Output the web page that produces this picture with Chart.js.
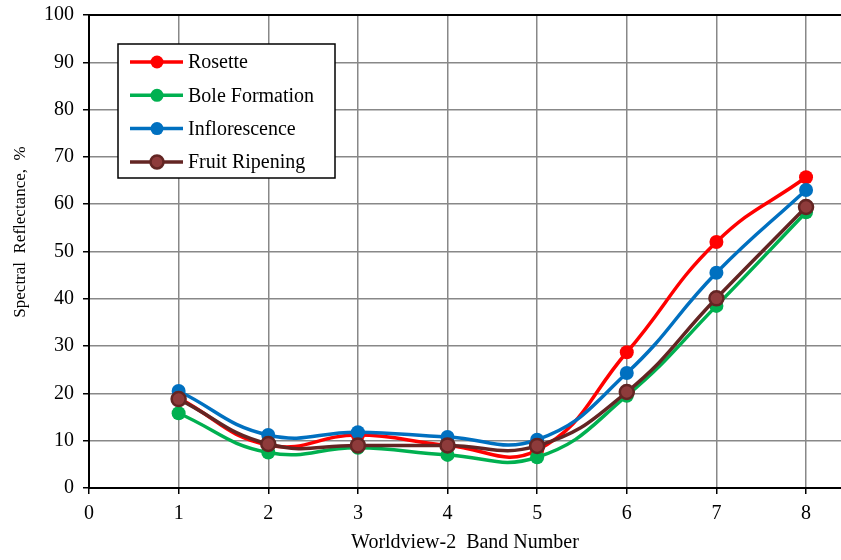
<!DOCTYPE html>
<html>
<head>
<meta charset="utf-8">
<script src="https://cdn.jsdelivr.net/npm/chart.js@4.4.1/dist/chart.umd.min.js"></script>
<style>
html,body{margin:0;padding:0;background:#fff;}
#wrap{width:841px;height:560px;position:relative;}
</style>
</head>
<body>
<div id="wrap"><canvas id="c" width="841" height="560"></canvas></div>
<script>
const bands = [1, 2, 3, 4, 5, 6, 7, 8];
const seriesNames = ["Rosette", "Bole Formation", "Inflorescence", "Fruit Ripening"];
const rosette = [19.0, 9.1, 11.2, 9.0, 8.0, 28.7, 52.0, 65.7];
const boleFormation = [15.8, 7.5, 8.5, 7.0, 6.5, 19.5, 38.5, 58.3];
const inflorescence = [20.5, 11.2, 11.8, 10.8, 10.2, 24.3, 45.5, 63.0];
const fruitRipening = [18.8, 9.3, 9.0, 9.0, 8.9, 20.3, 40.1, 59.4];
const xTicks = [0, 1, 2, 3, 4, 5, 6, 7, 8];
const yTicks = [0, 10, 20, 30, 40, 50, 60, 70, 80, 90, 100];
const xTitle = "Worldview-2  Band Number";
const yTitle = "Spectral  Reflectance,  %";

const colors = ["#FF0000", "#00B050", "#0070C0", "#632523"];
const fills = ["#FF0000", "#00B050", "#0070C0", "#8E3B3B"];
const values = [rosette, boleFormation, inflorescence, fruitRipening];

const datasets = seriesNames.map((name, i) => ({
  label: name,
  data: bands.map((b, j) => ({x: b, y: values[i][j]})),
  borderColor: colors[i],
  backgroundColor: fills[i],
  pointBackgroundColor: fills[i],
  pointBorderColor: colors[i],
  pointBorderWidth: i === 3 ? 2.5 : 0,
  pointRadius: 7,
  borderWidth: 3.5,
  tension: 0.45,
  order: 3 - i,
  clip: false
}));

const FONT = "'Liberation Serif', 'Times New Roman', serif";

const legendPlugin = {
  id: 'boxLegend',
  afterDatasetsDraw(chart) {
    const ctx = chart.ctx;
    const x0 = 118, y0 = 44, w = 217, h = 134;
    ctx.save();
    ctx.fillStyle = '#fff';
    ctx.fillRect(x0, y0, w, h);
    ctx.strokeStyle = '#000';
    ctx.lineWidth = 1.5;
    ctx.strokeRect(x0, y0, w, h);
    ctx.font = "20px " + FONT;
    ctx.textBaseline = 'middle';
    chart.data.datasets.forEach((ds, i) => {
      const y = y0 + 18 + i * 33.3;
      ctx.strokeStyle = ds.borderColor;
      ctx.lineWidth = 3.5;
      ctx.beginPath();
      ctx.moveTo(130, y);
      ctx.lineTo(183, y);
      ctx.stroke();
      ctx.beginPath();
      ctx.arc(157, y, 6.5, 0, Math.PI * 2);
      ctx.fillStyle = ds.pointBackgroundColor;
      ctx.fill();
      if (ds.pointBorderWidth) {
        ctx.lineWidth = ds.pointBorderWidth;
        ctx.strokeStyle = ds.pointBorderColor;
        ctx.stroke();
      }
      ctx.fillStyle = '#000';
      ctx.fillText(ds.label, 188, y + 1);
    });
    ctx.restore();
  }
};

const extras = {
  id: 'extras',
  afterDraw(chart) {
    const a = chart.chartArea, ctx = chart.ctx;
    ctx.save();
    ctx.strokeStyle = '#000';
    ctx.lineWidth = 2;
    ctx.beginPath();
    ctx.moveTo(a.left, a.top);
    ctx.lineTo(a.right, a.top);
    ctx.stroke();
    // y axis title
    ctx.translate(21, 232);
    ctx.rotate(-Math.PI / 2);
    ctx.font = "17px " + FONT;
    ctx.fillStyle = '#000';
    ctx.textAlign = 'center';
    ctx.textBaseline = 'middle';
    ctx.fillText(yTitle, 0, 0);
    ctx.restore();
  }
};

new Chart(document.getElementById('c'), {
  type: 'line',
  data: {datasets},
  options: {
    responsive: false,
    animation: false,
    layout: {autoPadding: false, padding: {left: 0, right: 0, top: 15, bottom: 0}},
    plugins: {legend: {display: false}, tooltip: {enabled: false}},
    scales: {
      x: {
        type: 'linear',
        min: 0,
        max: 8.39,
        afterBuildTicks: s => { s.ticks = xTicks.map(v => ({value: v})); },
        afterFit: s => { s.height = 72; },
        grid: {color: '#888', lineWidth: 1.5, drawTicks: true, tickLength: 6, tickColor: '#000'},
        border: {color: '#000', width: 2},
        ticks: {color: '#000', font: {family: FONT, size: 20}, padding: 8, maxRotation: 0},
        title: {display: true, text: xTitle, color: '#000', font: {family: FONT, size: 20}, padding: {top: 0, bottom: 5}}
      },
      y: {
        min: 0,
        max: 100,
        afterBuildTicks: s => { s.ticks = yTicks.map(v => ({value: v})); },
        afterFit: s => { s.width = 89; },
        grid: {color: '#888', lineWidth: 1.5, drawTicks: true, tickLength: 6, tickColor: '#000'},
        border: {color: '#000', width: 2},
        ticks: {color: '#000', font: {family: FONT, size: 20, lineHeight: 0.5}, padding: 9},
        title: {display: false}
      }
    }
  },
  plugins: [legendPlugin, extras]
});
</script>
</body>
</html>
